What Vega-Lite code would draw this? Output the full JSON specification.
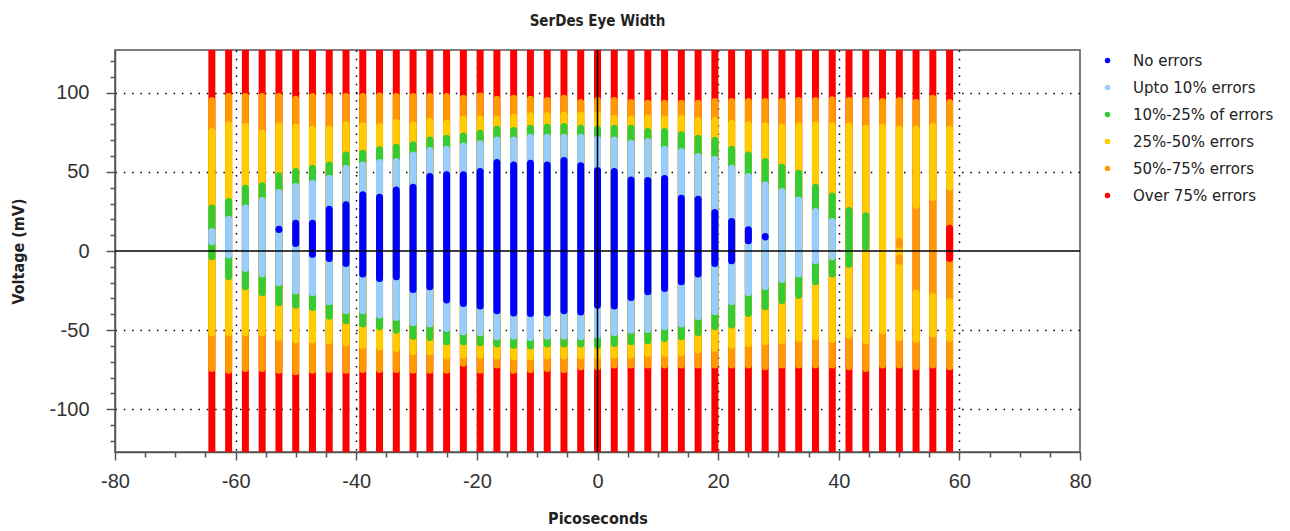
{
"$schema": "https://vega.github.io/schema/vega-lite/v6.json",
"width": 965, "height": 402,
"autosize": "none",
"padding": {"left": 115, "top": 50, "right": 210, "bottom": 79},
"background": "white",
"title": {"text": "SerDes Eye Width", "font": "'DejaVu Sans Condensed', 'Roboto Condensed', 'Liberation Sans'", "fontWeight": "bold", "fontSize": 15, "color": "#222222", "offset": 20, "anchor": "middle"},
"config": {
  "view": {"stroke": "#555555", "strokeWidth": 1.5},
  "axis": {"domainColor": "#555555", "domainWidth": 1.5, "tickColor": "#555555", "tickWidth": 1.5, "tickCount": 200, "labelFont": "Liberation Sans", "labelFontSize": 20, "labelColor": "#333333", "titleFont": "'DejaVu Sans Condensed', 'Roboto Condensed', 'Liberation Sans'", "titleFontWeight": "bold", "titleFontSize": 16, "titleColor": "#222222", "gridColor": "#000000", "gridDash": [1.5, 6.8], "gridWidth": 1.5, "labelOverlap": false, "labelFlush": false}
},
"datasets": {
"cols": [
{"ps":-63.94,"level":"Over 75% errors","lo":-130,"hi":130},{"ps":-61.16,"level":"Over 75% errors","lo":-130,"hi":130},{"ps":-58.38,"level":"Over 75% errors","lo":-130,"hi":130},{"ps":-55.6,"level":"Over 75% errors","lo":-130,"hi":130},{"ps":-52.82,"level":"Over 75% errors","lo":-130,"hi":130},{"ps":-50.04,"level":"Over 75% errors","lo":-130,"hi":130},{"ps":-47.26,"level":"Over 75% errors","lo":-130,"hi":130},{"ps":-44.48,"level":"Over 75% errors","lo":-130,"hi":130},{"ps":-41.7,"level":"Over 75% errors","lo":-130,"hi":130},{"ps":-38.92,"level":"Over 75% errors","lo":-130,"hi":130},{"ps":-36.14,"level":"Over 75% errors","lo":-130,"hi":130},{"ps":-33.36,"level":"Over 75% errors","lo":-130,"hi":130},{"ps":-30.58,"level":"Over 75% errors","lo":-130,"hi":130},{"ps":-27.8,"level":"Over 75% errors","lo":-130,"hi":130},{"ps":-25.02,"level":"Over 75% errors","lo":-130,"hi":130},{"ps":-22.24,"level":"Over 75% errors","lo":-130,"hi":130},{"ps":-19.46,"level":"Over 75% errors","lo":-130,"hi":130},{"ps":-16.68,"level":"Over 75% errors","lo":-130,"hi":130},{"ps":-13.9,"level":"Over 75% errors","lo":-130,"hi":130},{"ps":-11.12,"level":"Over 75% errors","lo":-130,"hi":130},{"ps":-8.34,"level":"Over 75% errors","lo":-130,"hi":130},{"ps":-5.56,"level":"Over 75% errors","lo":-130,"hi":130},{"ps":-2.78,"level":"Over 75% errors","lo":-130,"hi":130},{"ps":0,"level":"Over 75% errors","lo":-130,"hi":130},{"ps":2.78,"level":"Over 75% errors","lo":-130,"hi":130},{"ps":5.56,"level":"Over 75% errors","lo":-130,"hi":130},{"ps":8.34,"level":"Over 75% errors","lo":-130,"hi":130},{"ps":11.12,"level":"Over 75% errors","lo":-130,"hi":130},{"ps":13.9,"level":"Over 75% errors","lo":-130,"hi":130},{"ps":16.68,"level":"Over 75% errors","lo":-130,"hi":130},{"ps":19.46,"level":"Over 75% errors","lo":-130,"hi":130},{"ps":22.24,"level":"Over 75% errors","lo":-130,"hi":130},{"ps":25.02,"level":"Over 75% errors","lo":-130,"hi":130},{"ps":27.8,"level":"Over 75% errors","lo":-130,"hi":130},{"ps":30.58,"level":"Over 75% errors","lo":-130,"hi":130},{"ps":33.36,"level":"Over 75% errors","lo":-130,"hi":130},{"ps":36.14,"level":"Over 75% errors","lo":-130,"hi":130},{"ps":38.92,"level":"Over 75% errors","lo":-130,"hi":130},{"ps":41.7,"level":"Over 75% errors","lo":-130,"hi":130},{"ps":44.48,"level":"Over 75% errors","lo":-130,"hi":130},{"ps":47.26,"level":"Over 75% errors","lo":-130,"hi":130},{"ps":50.04,"level":"Over 75% errors","lo":-130,"hi":130},{"ps":52.82,"level":"Over 75% errors","lo":-130,"hi":130},{"ps":55.6,"level":"Over 75% errors","lo":-130,"hi":130},{"ps":58.38,"level":"Over 75% errors","lo":-130,"hi":130},

{"ps":-63.94,"level":"50%-75% errors","lo":-74.2,"hi":95.1},{"ps":-61.16,"level":"50%-75% errors","lo":-75.3,"hi":97.6},{"ps":-58.38,"level":"50%-75% errors","lo":-74.2,"hi":97.6},{"ps":-55.6,"level":"50%-75% errors","lo":-74.2,"hi":97.6},{"ps":-52.82,"level":"50%-75% errors","lo":-75.3,"hi":97.6},{"ps":-50.04,"level":"50%-75% errors","lo":-76.3,"hi":95.9},{"ps":-47.26,"level":"50%-75% errors","lo":-75.3,"hi":97.6},{"ps":-44.48,"level":"50%-75% errors","lo":-74.8,"hi":97.6},{"ps":-41.7,"level":"50%-75% errors","lo":-75.3,"hi":97.6},{"ps":-38.92,"level":"50%-75% errors","lo":-74.8,"hi":97.6},{"ps":-36.14,"level":"50%-75% errors","lo":-74.8,"hi":98},{"ps":-33.36,"level":"50%-75% errors","lo":-74.8,"hi":97.6},{"ps":-30.58,"level":"50%-75% errors","lo":-75.3,"hi":97.6},{"ps":-27.8,"level":"50%-75% errors","lo":-75.3,"hi":97.6},{"ps":-25.02,"level":"50%-75% errors","lo":-75.3,"hi":97.6},{"ps":-22.24,"level":"50%-75% errors","lo":-71,"hi":96.5},{"ps":-19.46,"level":"50%-75% errors","lo":-75.3,"hi":98},{"ps":-16.68,"level":"50%-75% errors","lo":-72,"hi":95.9},{"ps":-13.9,"level":"50%-75% errors","lo":-75.3,"hi":96.5},{"ps":-11.12,"level":"50%-75% errors","lo":-74.8,"hi":95.9},{"ps":-8.34,"level":"50%-75% errors","lo":-74.2,"hi":95.1},{"ps":-5.56,"level":"50%-75% errors","lo":-74.8,"hi":96.5},{"ps":-2.78,"level":"50%-75% errors","lo":-73.2,"hi":93.8},{"ps":0,"level":"50%-75% errors","lo":-73.2,"hi":95.1},{"ps":2.78,"level":"50%-75% errors","lo":-72.1,"hi":95.1},{"ps":5.56,"level":"50%-75% errors","lo":-72.1,"hi":93.8},{"ps":8.34,"level":"50%-75% errors","lo":-72.1,"hi":93.4},{"ps":11.12,"level":"50%-75% errors","lo":-72.1,"hi":93.4},{"ps":13.9,"level":"50%-75% errors","lo":-72.1,"hi":93.4},{"ps":16.68,"level":"50%-75% errors","lo":-72.1,"hi":93.4},{"ps":19.46,"level":"50%-75% errors","lo":-72.1,"hi":94.4},{"ps":22.24,"level":"50%-75% errors","lo":-72.1,"hi":94.4},{"ps":25.02,"level":"50%-75% errors","lo":-72.1,"hi":94.4},{"ps":27.8,"level":"50%-75% errors","lo":-73.2,"hi":94.4},{"ps":30.58,"level":"50%-75% errors","lo":-72.1,"hi":94.4},{"ps":33.36,"level":"50%-75% errors","lo":-72.1,"hi":95.1},{"ps":36.14,"level":"50%-75% errors","lo":-72.1,"hi":95.1},{"ps":38.92,"level":"50%-75% errors","lo":-72.1,"hi":95.5},{"ps":41.7,"level":"50%-75% errors","lo":-73.2,"hi":95.1},{"ps":44.48,"level":"50%-75% errors","lo":-74.2,"hi":95.1},{"ps":47.26,"level":"50%-75% errors","lo":-72.1,"hi":94.4},{"ps":50.04,"level":"50%-75% errors","lo":-72.1,"hi":95.1},{"ps":52.82,"level":"50%-75% errors","lo":-73.2,"hi":93.8},{"ps":55.6,"level":"50%-75% errors","lo":-72.1,"hi":96.5},{"ps":58.38,"level":"50%-75% errors","lo":-73.2,"hi":93.8},

{"ps":-63.94,"level":"25%-50% errors","lo":-51.7,"hi":75.5},{"ps":-61.16,"level":"25%-50% errors","lo":-51.7,"hi":79.7},{"ps":-58.38,"level":"25%-50% errors","lo":-51.7,"hi":78.6},{"ps":-55.6,"level":"25%-50% errors","lo":-51.7,"hi":74.4},{"ps":-52.82,"level":"25%-50% errors","lo":-54.6,"hi":79.1},{"ps":-50.04,"level":"25%-50% errors","lo":-56.3,"hi":78.2},{"ps":-47.26,"level":"25%-50% errors","lo":-56.3,"hi":77},{"ps":-44.48,"level":"25%-50% errors","lo":-56.7,"hi":77},{"ps":-41.7,"level":"25%-50% errors","lo":-58,"hi":79.7},{"ps":-38.92,"level":"25%-50% errors","lo":-59.5,"hi":79.1},{"ps":-36.14,"level":"25%-50% errors","lo":-60.5,"hi":78.6},{"ps":-33.36,"level":"25%-50% errors","lo":-61.6,"hi":81.2},{"ps":-30.58,"level":"25%-50% errors","lo":-63.7,"hi":79.7},{"ps":-27.8,"level":"25%-50% errors","lo":-63.7,"hi":81.8},{"ps":-25.02,"level":"25%-50% errors","lo":-66.4,"hi":80.7},{"ps":-22.24,"level":"25%-50% errors","lo":-65.8,"hi":83.3},{"ps":-19.46,"level":"25%-50% errors","lo":-65.8,"hi":83.3},{"ps":-16.68,"level":"25%-50% errors","lo":-66.4,"hi":83.3},{"ps":-13.9,"level":"25%-50% errors","lo":-66.8,"hi":84.5},{"ps":-11.12,"level":"25%-50% errors","lo":-66.8,"hi":85.4},{"ps":-8.34,"level":"25%-50% errors","lo":-66.4,"hi":85.4},{"ps":-5.56,"level":"25%-50% errors","lo":-66.4,"hi":86},{"ps":-2.78,"level":"25%-50% errors","lo":-66.4,"hi":86},{"ps":0,"level":"25%-50% errors","lo":-66.4,"hi":86},{"ps":2.78,"level":"25%-50% errors","lo":-65.8,"hi":83.9},{"ps":5.56,"level":"25%-50% errors","lo":-65.8,"hi":83.3},{"ps":8.34,"level":"25%-50% errors","lo":-64.7,"hi":83.9},{"ps":11.12,"level":"25%-50% errors","lo":-64.7,"hi":83.3},{"ps":13.9,"level":"25%-50% errors","lo":-64.3,"hi":83.9},{"ps":16.68,"level":"25%-50% errors","lo":-62.6,"hi":82.4},{"ps":19.46,"level":"25%-50% errors","lo":-61.6,"hi":82.4},{"ps":22.24,"level":"25%-50% errors","lo":-59.5,"hi":80.7},{"ps":25.02,"level":"25%-50% errors","lo":-58.4,"hi":79.7},{"ps":27.8,"level":"25%-50% errors","lo":-57.4,"hi":79.1},{"ps":30.58,"level":"25%-50% errors","lo":-56.7,"hi":78.2},{"ps":33.36,"level":"25%-50% errors","lo":-55.3,"hi":79.1},{"ps":36.14,"level":"25%-50% errors","lo":-54.2,"hi":79.7},{"ps":38.92,"level":"25%-50% errors","lo":-55.9,"hi":79.1},{"ps":41.7,"level":"25%-50% errors","lo":-53.2,"hi":79.1},{"ps":44.48,"level":"25%-50% errors","lo":-56.7,"hi":77.6},{"ps":47.26,"level":"25%-50% errors","lo":-50.4,"hi":78.2},{"ps":50.04,"level":"25%-50% errors","lo":-55,"hi":77},{"ps":52.82,"level":"25%-50% errors","lo":28.9,"hi":77},{"ps":52.82,"level":"25%-50% errors","lo":-55.9,"hi":-26.6},{"ps":55.6,"level":"25%-50% errors","lo":33.8,"hi":78.6},{"ps":55.6,"level":"25%-50% errors","lo":-52.5,"hi":-28.7},{"ps":58.38,"level":"25%-50% errors","lo":40.5,"hi":77},{"ps":58.38,"level":"25%-50% errors","lo":-55.3,"hi":-31.9},

{"ps":-63.94,"level":"10%-25% of errors","lo":-3.7,"hi":27.1},{"ps":-61.16,"level":"10%-25% of errors","lo":-16.3,"hi":31.3},{"ps":-58.38,"level":"10%-25% of errors","lo":-22.6,"hi":39.7},{"ps":-55.6,"level":"10%-25% of errors","lo":-26.4,"hi":41.2},{"ps":-52.82,"level":"10%-25% of errors","lo":-32.7,"hi":47.5},{"ps":-50.04,"level":"10%-25% of errors","lo":-34.2,"hi":50.2},{"ps":-47.26,"level":"10%-25% of errors","lo":-35.7,"hi":52.3},{"ps":-44.48,"level":"10%-25% of errors","lo":-41.2,"hi":54.4},{"ps":-41.7,"level":"10%-25% of errors","lo":-44.1,"hi":60.7},{"ps":-38.92,"level":"10%-25% of errors","lo":-46.2,"hi":61.8},{"ps":-36.14,"level":"10%-25% of errors","lo":-47.9,"hi":63.9},{"ps":-33.36,"level":"10%-25% of errors","lo":-50,"hi":65.6},{"ps":-30.58,"level":"10%-25% of errors","lo":-53.8,"hi":67.1},{"ps":-27.8,"level":"10%-25% of errors","lo":-54.6,"hi":70.2},{"ps":-25.02,"level":"10%-25% of errors","lo":-57.4,"hi":71.3},{"ps":-22.24,"level":"10%-25% of errors","lo":-57.4,"hi":72.7},{"ps":-19.46,"level":"10%-25% of errors","lo":-58,"hi":74.4},{"ps":-16.68,"level":"10%-25% of errors","lo":-58.8,"hi":76.9},{"ps":-13.9,"level":"10%-25% of errors","lo":-59.5,"hi":76.1},{"ps":-11.12,"level":"10%-25% of errors","lo":-60.1,"hi":77.6},{"ps":-8.34,"level":"10%-25% of errors","lo":-58.8,"hi":78.2},{"ps":-5.56,"level":"10%-25% of errors","lo":-58.8,"hi":78.6},{"ps":-2.78,"level":"10%-25% of errors","lo":-58.8,"hi":77.6},{"ps":0,"level":"10%-25% of errors","lo":-59.5,"hi":76.9},{"ps":2.78,"level":"10%-25% of errors","lo":-58.4,"hi":77.6},{"ps":5.56,"level":"10%-25% of errors","lo":-57.4,"hi":77.6},{"ps":8.34,"level":"10%-25% of errors","lo":-56.7,"hi":75.5},{"ps":11.12,"level":"10%-25% of errors","lo":-55.3,"hi":75.5},{"ps":13.9,"level":"10%-25% of errors","lo":-54.2,"hi":73.4},{"ps":16.68,"level":"10%-25% of errors","lo":-51.7,"hi":71.3},{"ps":19.46,"level":"10%-25% of errors","lo":-47.9,"hi":69.8},{"ps":22.24,"level":"10%-25% of errors","lo":-46.8,"hi":64.3},{"ps":25.02,"level":"10%-25% of errors","lo":-39.5,"hi":60.7},{"ps":27.8,"level":"10%-25% of errors","lo":-35.3,"hi":56.5},{"ps":30.58,"level":"10%-25% of errors","lo":-31.5,"hi":52.9},{"ps":33.36,"level":"10%-25% of errors","lo":-27.9,"hi":49.2},{"ps":36.14,"level":"10%-25% of errors","lo":-19.5,"hi":40.3},{"ps":38.92,"level":"10%-25% of errors","lo":-14.6,"hi":34.8},{"ps":41.7,"level":"10%-25% of errors","lo":-8.3,"hi":25.6},{"ps":44.48,"level":"10%-25% of errors","lo":2.6,"hi":22.2},

{"ps":-63.94,"level":"Upto 10% errors","lo":5.8,"hi":12.3},{"ps":-61.16,"level":"Upto 10% errors","lo":-2.6,"hi":20.1},{"ps":-58.38,"level":"Upto 10% errors","lo":-11.1,"hi":27.1},{"ps":-55.6,"level":"Upto 10% errors","lo":-14.6,"hi":31.9},{"ps":-52.82,"level":"Upto 10% errors","lo":-20.1,"hi":36.9},{"ps":-50.04,"level":"Upto 10% errors","lo":-25.2,"hi":40.7},{"ps":-47.26,"level":"Upto 10% errors","lo":-26.4,"hi":42.8},{"ps":-44.48,"level":"Upto 10% errors","lo":-32.1,"hi":46},{"ps":-41.7,"level":"Upto 10% errors","lo":-37.8,"hi":52.3},{"ps":-38.92,"level":"Upto 10% errors","lo":-37.8,"hi":54.4},{"ps":-36.14,"level":"Upto 10% errors","lo":-40.5,"hi":55.9},{"ps":-33.36,"level":"Upto 10% errors","lo":-42,"hi":56.5},{"ps":-30.58,"level":"Upto 10% errors","lo":-45.4,"hi":60.7},{"ps":-27.8,"level":"Upto 10% errors","lo":-46.2,"hi":63.5},{"ps":-25.02,"level":"Upto 10% errors","lo":-48.9,"hi":64.3},{"ps":-22.24,"level":"Upto 10% errors","lo":-51,"hi":66.4},{"ps":-19.46,"level":"Upto 10% errors","lo":-51.7,"hi":67.7},{"ps":-16.68,"level":"Upto 10% errors","lo":-54.2,"hi":70.2},{"ps":-13.9,"level":"Upto 10% errors","lo":-53.8,"hi":70.2},{"ps":-11.12,"level":"Upto 10% errors","lo":-54.6,"hi":71.9},{"ps":-8.34,"level":"Upto 10% errors","lo":-53.8,"hi":71.9},{"ps":-5.56,"level":"Upto 10% errors","lo":-53.8,"hi":71.9},{"ps":-2.78,"level":"Upto 10% errors","lo":-54.2,"hi":71.9},{"ps":0,"level":"Upto 10% errors","lo":-53.2,"hi":70.6},{"ps":2.78,"level":"Upto 10% errors","lo":-51.7,"hi":70.2},{"ps":5.56,"level":"Upto 10% errors","lo":-50,"hi":68.1},{"ps":8.34,"level":"Upto 10% errors","lo":-49.6,"hi":69.2},{"ps":11.12,"level":"Upto 10% errors","lo":-47.9,"hi":64.3},{"ps":13.9,"level":"Upto 10% errors","lo":-46.2,"hi":62.8},{"ps":16.68,"level":"Upto 10% errors","lo":-41.6,"hi":59.7},{"ps":19.46,"level":"Upto 10% errors","lo":-38.4,"hi":58},{"ps":22.24,"level":"Upto 10% errors","lo":-32.1,"hi":52.3},{"ps":25.02,"level":"Upto 10% errors","lo":-26.4,"hi":47.1},{"ps":27.8,"level":"Upto 10% errors","lo":-22.6,"hi":41.8},{"ps":30.58,"level":"Upto 10% errors","lo":-18,"hi":37.6},{"ps":33.36,"level":"Upto 10% errors","lo":-14.6,"hi":32.3},{"ps":36.14,"level":"Upto 10% errors","lo":-6.2,"hi":24.9},{"ps":38.92,"level":"Upto 10% errors","lo":-3.7,"hi":18.6},

{"ps":-52.82,"level":"No errors","lo":13.6,"hi":13.8},{"ps":-50.04,"level":"No errors","lo":4.7,"hi":17.6},{"ps":-47.26,"level":"No errors","lo":-2,"hi":17.6},{"ps":-44.48,"level":"No errors","lo":-4.7,"hi":26.4},{"ps":-41.7,"level":"No errors","lo":-7.9,"hi":29.2},{"ps":-38.92,"level":"No errors","lo":-14.6,"hi":35.5},{"ps":-36.14,"level":"No errors","lo":-17.4,"hi":34},{"ps":-33.36,"level":"No errors","lo":-16.3,"hi":38.6},{"ps":-30.58,"level":"No errors","lo":-24.3,"hi":40.3},{"ps":-27.8,"level":"No errors","lo":-22.6,"hi":47.1},{"ps":-25.02,"level":"No errors","lo":-31,"hi":48.1},{"ps":-22.24,"level":"No errors","lo":-33.2,"hi":48.1},{"ps":-19.46,"level":"No errors","lo":-34.8,"hi":50.2},{"ps":-16.68,"level":"No errors","lo":-37.8,"hi":55.9},{"ps":-13.9,"level":"No errors","lo":-39.1,"hi":54.4},{"ps":-11.12,"level":"No errors","lo":-39.5,"hi":55.5},{"ps":-8.34,"level":"No errors","lo":-39.1,"hi":54.4},{"ps":-5.56,"level":"No errors","lo":-37.8,"hi":57.2},{"ps":-2.78,"level":"No errors","lo":-38.6,"hi":53.8},{"ps":0,"level":"No errors","lo":-34.2,"hi":50.8},{"ps":2.78,"level":"No errors","lo":-34.8,"hi":50.2},{"ps":5.56,"level":"No errors","lo":-29.4,"hi":44.9},{"ps":8.34,"level":"No errors","lo":-25.8,"hi":44.5},{"ps":11.12,"level":"No errors","lo":-23.7,"hi":45.8},{"ps":13.9,"level":"No errors","lo":-19.5,"hi":33.4},{"ps":16.68,"level":"No errors","lo":-14.6,"hi":32.7},{"ps":19.46,"level":"No errors","lo":-7.9,"hi":24.3},{"ps":22.24,"level":"No errors","lo":-6.2,"hi":18.6},{"ps":25.02,"level":"No errors","lo":6.4,"hi":13.4},{"ps":27.8,"level":"No errors","lo":8.9,"hi":9.1},

{"ps":50.04,"level":"50%-75% errors","lo":4,"hi":6},{"ps":50.04,"level":"50%-75% errors","lo":-6.5,"hi":-4.5},{"ps":58.38,"level":"Over 75% errors","lo":-4.7,"hi":14.4}
]
},
"layer": [
 {
  "data": {"name": "cols"},
  "mark": {"type": "rule", "strokeWidth": 7, "strokeCap": "round", "clip": true},
  "encoding": {
   "x": {"field": "ps", "type": "quantitative",
     "scale": {"domain": [-80, 80], "nice": false, "zero": false},
     "axis": {"values": [-80,-75,-70,-65,-60,-55,-50,-45,-40,-35,-30,-25,-20,-15,-10,-5,0,5,10,15,20,25,30,35,40,45,50,55,60,65,70,75,80],
       "tickCount": 200,
       "labelExpr": "datum.value % 20 === 0 ? '' + datum.value : ''",
       "tickSize": {"condition": {"test": "datum.value % 20 === 0", "value": 8}, "value": 5},
       "labelPadding": 11,
       "title": "Picoseconds", "titleX": 482.5, "titleY": 66, "titleBaseline": "middle", "titleAlign": "center",
       "grid": true,
       "gridOpacity": {"condition": {"test": "datum.value % 20 === 0 && abs(datum.value) < 80 && datum.value !== 0", "value": 1}, "value": 0}
     }},
   "y": {"field": "lo", "type": "quantitative",
     "scale": {"domain": [-127, 127], "nice": false, "zero": false},
     "axis": {"values": [-120,-110,-100,-90,-80,-70,-60,-50,-40,-30,-20,-10,0,10,20,30,40,50,60,70,80,90,100,110,120],
       "tickCount": 200,
       "labelExpr": "datum.value % 50 === 0 ? '' + datum.value : ''",
       "tickSize": {"condition": {"test": "datum.value % 50 === 0", "value": 9}, "value": 5},
       "labelPadding": 17,
       "title": "Voltage (mV)", "titleX": -97, "titleY": 201, "titleAngle": 270, "titleAlign": "center", "titleBaseline": "middle",
       "grid": true,
       "gridOpacity": {"condition": {"test": "datum.value % 50 === 0 && datum.value !== 0", "value": 1}, "value": 0}
     }},
   "y2": {"field": "hi"},
   "color": {"field": "level", "type": "nominal",
     "scale": {"domain": ["No errors", "Upto 10% errors", "10%-25% of errors", "25%-50% errors", "50%-75% errors", "Over 75% errors"],
               "range": ["#0000FF", "#99CCFF", "#33CC33", "#FFCC00", "#FF9900", "#FF0000"]},
     "legend": {"title": null, "orient": "none", "legendX": 985, "legendY": 3, "padding": 0,
       "symbolType": "circle", "symbolSize": 30, "symbolStrokeWidth": 0,
       "labelFont": "DejaVu Sans", "labelFontSize": 15, "labelColor": "#222222",
       "rowPadding": 11, "labelOffset": 18,
       "encode": {"symbols": {"update": {"fill": {"scale": "color", "field": "value"}, "stroke": {"value": "transparent"}, "opacity": {"value": 1}}}}}}
  }
 },
 {
  "data": {"values": [{}]},
  "mark": {"type": "rule", "color": "#000000", "strokeWidth": 1.5},
  "encoding": {"y": {"datum": 0}}
 },
 {
  "data": {"values": [{}]},
  "mark": {"type": "rule", "color": "#000000", "strokeWidth": 1.5},
  "encoding": {"x": {"datum": 0}}
 }
]
}
